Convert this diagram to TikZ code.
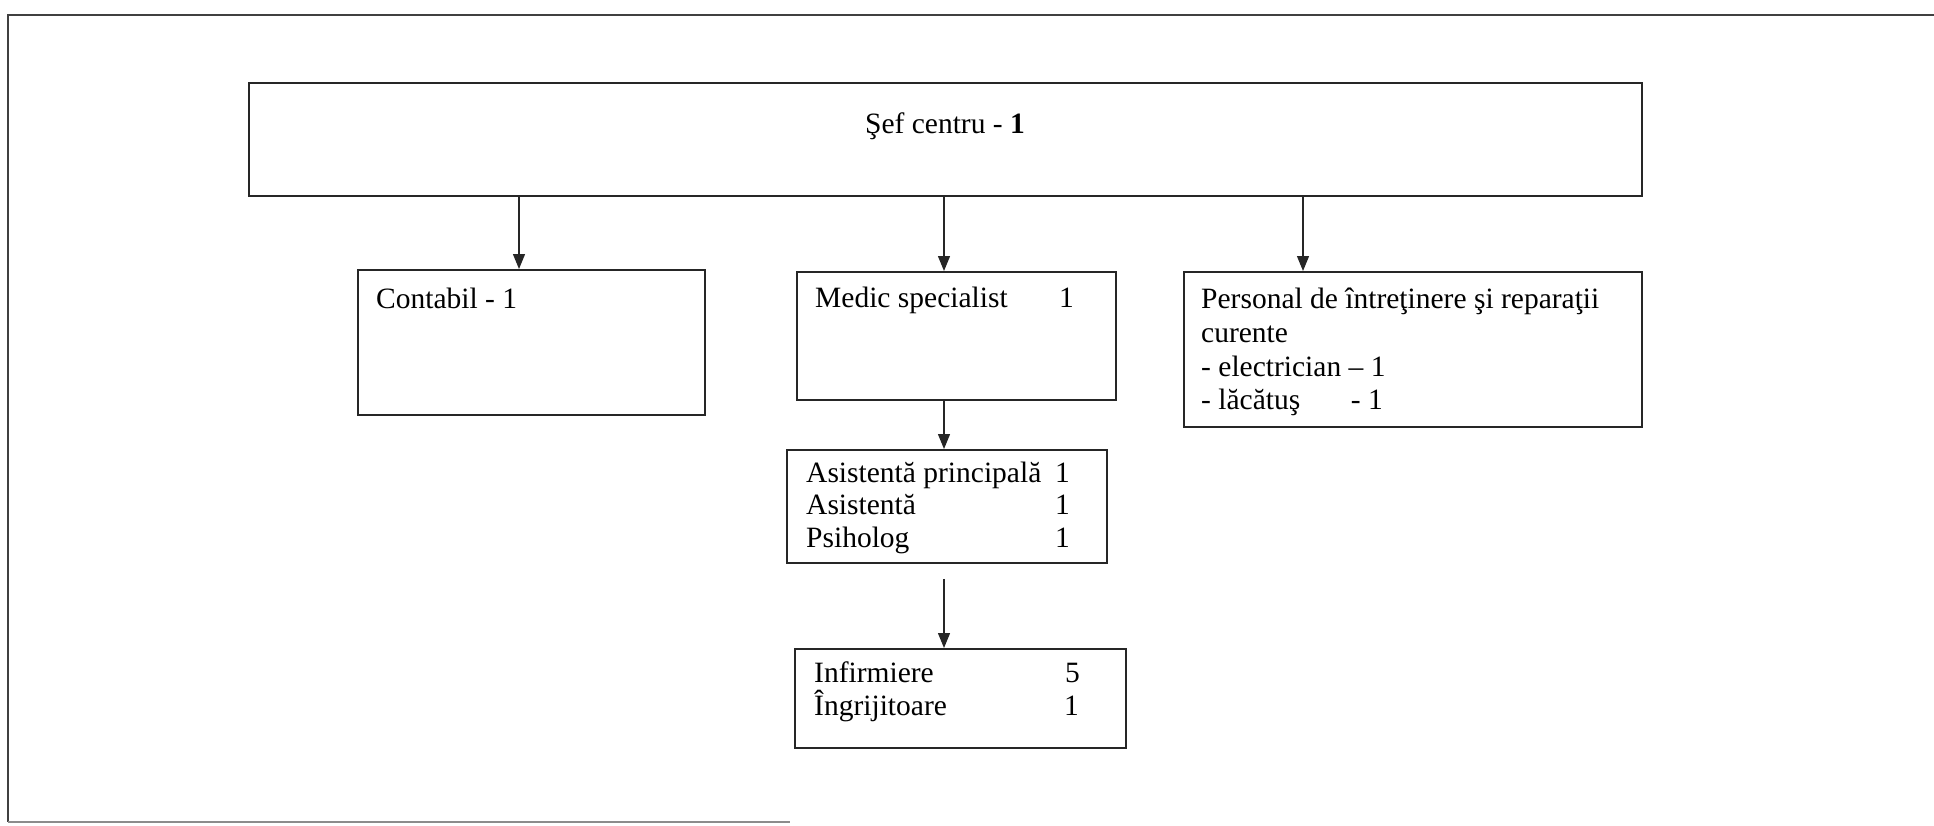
\documentclass[tikz,border=0pt]{standalone}
\usepackage{fontspec}
\setmainfont{Liberation Serif}
\usetikzlibrary{arrows.meta}
\begin{document}
\begin{tikzpicture}[x=1pt,y=-1pt,
  box/.style={draw=black!85, line width=1.8pt, inner sep=0pt, anchor=north west},
  txt/.style={inner sep=0pt, anchor=base west, font=\fontsize{29.5}{33}\selectfont},
  txte/.style={txt, anchor=base east},
  arr/.style={draw=black!85, line width=1.3pt, -{Triangle[length=15pt,width=12pt]}},
  frameline/.style={line width=2.5pt, draw=black!75}]
\useasboundingbox (0,0) rectangle (1934,825);
% outer frame
\coordinate (fTL) at (8,15);
\coordinate (fTR) at (1934,15);
\coordinate (fBL) at (8,822);
\coordinate (fBR) at (790,822);
\draw[frameline] (fTR) -- (fTL) -- (fBL);
\draw[line width=1.5pt, draw=black!45] (fBL) -- (fBR);
% boxes
\node[box, minimum width=1393pt, minimum height=113pt] (chief) at (248,82) {};
\node[box, minimum width=347pt, minimum height=145pt] (contabil) at (357,269) {};
\node[box, minimum width=319pt, minimum height=128pt] (medic) at (796,271) {};
\node[box, minimum width=458pt, minimum height=155pt] (personal) at (1183,271) {};
\node[box, minimum width=320pt, minimum height=113pt] (asist) at (786,449) {};
\node[box, minimum width=331pt, minimum height=99pt] (infirm) at (794,648) {};
% texts
\node[txt, anchor=base] (tchief) at (945,133) {Şef centru - \textbf{1}};
\node[txt] (tcont) at (376,308) {Contabil - 1};
\node[txt] (tmed) at (815,307) {Medic specialist};
\node[txt] (tmedn) at (1059,307) {1};
\node[txt] (tp1) at (1201,308) {Personal de întreţinere şi reparaţii};
\node[txt] (tp2) at (1201,342) {curente};
\node[txt] (tp3) at (1201,376) {- electrician – 1};
\node[txt] (tp4) at (1201,409) {- lăcătuş};
\node[txte] (tp4n) at (1383,409) {- 1};
\node[txt] (ta1) at (806,482) {Asistentă principală};
\node[txt] (ta2) at (806,514) {Asistentă};
\node[txt] (ta3) at (806,547) {Psiholog};
\node[txt] (ta1n) at (1055,482) {1};
\node[txt] (ta2n) at (1055,514) {1};
\node[txt] (ta3n) at (1055,547) {1};
\node[txt] (ti1) at (814,682) {Infirmiere};
\node[txt] (ti2) at (814,715) {Îngrijitoare};
\node[txt] (ti1n) at (1065,682) {5};
\node[txt] (ti2n) at (1064,715) {1};
% connectors
\coordinate (a1) at (519,269);
\coordinate (a2) at (944,271);
\coordinate (a3) at (1303,271);
\coordinate (a4) at (944,449);
\coordinate (a5) at (944,648);
\draw[arr] (chief.south -| a1) -- (a1);
\draw[arr] (chief.south -| a2) -- (a2);
\draw[arr] (chief.south -| a3) -- (a3);
\draw[arr] (medic.south -| a4) -- (a4);
\draw[arr, shorten <=15pt] (asist.south -| a5) -- (a5);
\end{tikzpicture}
\end{document}
